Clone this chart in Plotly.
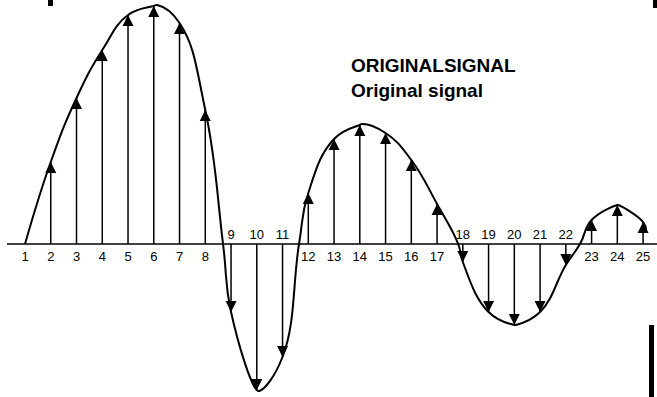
import plotly.graph_objects as go

samples = list(range(1, 26))
values = [0, 82, 146, 194, 229, 238, 221, 134, -68, -146, -113, 51, 105,
          119, 111, 84, 40, -18, -68, -81, -68, -21, 24, 39, 22]

# extra points along the continuous curve (zero crossings, peaks, end)
curve_extra_x = [6.13, 8.69, 10.1, 11.64, 14.09, 17.82, 20.05, 22.55, 24.03, 25.12]
curve_extra_y = [239, 0, -147, 0, 120, 0, -81, 0, 39, 14]

title_lines = ["ORIGINALSIGNAL", "Original signal"]

# merge sample points and extra points into one curve
curve = sorted(zip(samples + curve_extra_x, values + curve_extra_y))
curve = [p for i, p in enumerate(curve) if i == 0 or p[0] != curve[i - 1][0]]
cx = [p[0] for p in curve]
cy = [p[1] for p in curve]

fig = go.Figure()

# baseline
fig.add_shape(type="line", x0=0.30, x1=25.6, y0=0, y1=0,
              line=dict(color="black", width=1.6))

# stems
sx, sy = [], []
for s, v in zip(samples, values):
    if v != 0:
        sx += [s, s, None]
        sy += [0, v, None]
fig.add_trace(go.Scatter(x=sx, y=sy, mode="lines",
                         line=dict(color="black", width=1.5),
                         hoverinfo="skip", showlegend=False))

# arrowheads
ax = [s for s, v in zip(samples, values) if v != 0]
ay = [v for v in values if v != 0]
sym = ["arrow-up" if v > 0 else "arrow-down" for v in ay]
fig.add_trace(go.Scatter(x=ax, y=ay, mode="markers",
                         marker=dict(symbol=sym, size=11, color="black",
                                     line=dict(width=0)),
                         hoverinfo="skip", showlegend=False))

# the continuous signal
fig.add_trace(go.Scatter(x=cx, y=cy, mode="lines",
                         line=dict(color="black", width=2, shape="spline", smoothing=1.3),
                         hoverinfo="skip", showlegend=False))

# sample numbers: below the baseline for positive, above for negative
lx_pos = [s for s, v in zip(samples, values) if v >= 0]
lx_neg = [s for s, v in zip(samples, values) if v < 0]
fig.add_trace(go.Scatter(x=lx_pos, y=[-14] * len(lx_pos), mode="text",
                         text=[str(s) for s in lx_pos], textposition="middle center",
                         textfont=dict(family="Liberation Sans", size=13, color="black"),
                         hoverinfo="skip", showlegend=False))
fig.add_trace(go.Scatter(x=lx_neg, y=[8] * len(lx_neg), mode="text",
                         text=[str(s) for s in lx_neg], textposition="middle center",
                         textfont=dict(family="Liberation Sans", size=13, color="black"),
                         hoverinfo="skip", showlegend=False))

for i, line in enumerate(title_lines):
    fig.add_annotation(text="<b>" + line + "</b>", xref="paper", yref="paper",
                       x=0.531, y=0.836 - i * 0.063, xanchor="left", yanchor="middle",
                       showarrow=False,
                       font=dict(family="Liberation Sans", size=19, color="black"))

# scan marks at the edges of the page
fig.add_shape(type="rect", xref="paper", yref="paper", x0=649 / 657, x1=654 / 657,
              y0=0, y1=1 - 325 / 397, fillcolor="black", line=dict(width=0))
fig.add_shape(type="rect", xref="paper", yref="paper", x0=48 / 657, x1=53 / 657,
              y0=1 - 6 / 397, y1=1, fillcolor="black", line=dict(width=0))
fig.add_shape(type="rect", xref="paper", yref="paper", x0=653 / 657, x1=657 / 657,
              y0=1 - 8 / 397, y1=1, fillcolor="black", line=dict(width=0))

fig.update_xaxes(range=[0.029, 25.54], visible=False, fixedrange=True)
fig.update_yaxes(range=[-153, 244], visible=False, fixedrange=True)
fig.update_layout(width=657, height=397, margin=dict(l=0, r=0, t=0, b=0),
                  plot_bgcolor="white", paper_bgcolor="white", showlegend=False)

# drop the browser's default page margin so the figure fills the window
fig.write_html("out.html", config=dict(displayModeBar=False),
               post_script="document.body.style.margin='0';")
